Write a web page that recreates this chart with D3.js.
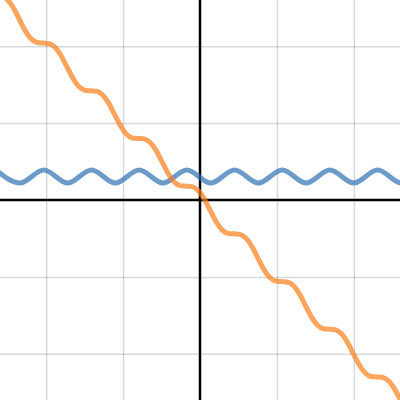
<!DOCTYPE html>
<html>
<head>
<meta charset="utf-8">
<script src="https://cdn.jsdelivr.net/npm/d3@7"></script>
<style>
  html, body { margin: 0; padding: 0; background: #fff; }
  svg { display: block; }
</style>
</head>
<body>
<svg id="chart" width="400" height="400"></svg>
<script>
/** Grid line positions (graph units) */
var gridTicks = [-2, -1, 1, 2];

/** Blue curve: peaks and troughs */
var blueX = [-2.651, -2.341, -2.031, -1.721, -1.411, -1.101, -0.791, -0.481,
             -0.171, 0.139, 0.449, 0.759, 1.069, 1.379, 1.689, 1.999, 2.309, 2.619, 2.929];
var blueY = [0.39, 0.22, 0.39, 0.22, 0.39, 0.22, 0.39, 0.22,
             0.39, 0.22, 0.39, 0.22, 0.39, 0.22, 0.39, 0.22, 0.39, 0.22, 0.39];

/** Orange curve: points */
var orangeX = [-2.66, -2.5825, -2.505, -2.4275, -2.35, -2.2725, -2.195, -2.1175,
               -2.04, -1.9625, -1.885, -1.8075, -1.73, -1.6525, -1.575, -1.4975,
               -1.42, -1.3425, -1.265, -1.1875, -1.11, -1.0325, -0.955, -0.8775,
               -0.80, -0.7225, -0.645, -0.5675, -0.49, -0.4125, -0.335, -0.2575,
               -0.18, -0.1025, -0.025, 0.0525, 0.13, 0.2075, 0.285, 0.3625,
               0.44, 0.5175, 0.595, 0.6725, 0.75, 0.8275, 0.905, 0.9825,
               1.06, 1.1375, 1.215, 1.2925, 1.37, 1.4475, 1.525, 1.6025,
               1.68, 1.7575, 1.835, 1.9125, 1.99, 2.0675, 2.145, 2.2225,
               2.30, 2.3775, 2.455, 2.5325, 2.61, 2.6875];
var orangeY = [2.66, 2.654, 2.605, 2.499, 2.35, 2.202, 2.095, 2.047,
               2.04, 2.034, 1.985, 1.879, 1.73, 1.582, 1.475, 1.427,
               1.42, 1.414, 1.365, 1.259, 1.11, 0.962, 0.855, 0.807,
               0.80, 0.794, 0.745, 0.639, 0.49, 0.342, 0.235, 0.187,
               0.18, 0.174, 0.125, 0.019, -0.13, -0.279, -0.385, -0.434,
               -0.44, -0.447, -0.495, -0.602, -0.75, -0.899, -1.005, -1.054,
               -1.06, -1.067, -1.115, -1.222, -1.37, -1.519, -1.625, -1.674,
               -1.68, -1.687, -1.735, -1.842, -1.99, -2.139, -2.245, -2.294,
               -2.30, -2.307, -2.355, -2.462, -2.61, -2.759];

var width = 400,
    height = 400;

var svg = d3.select('#chart');

// scales
var xScale = d3.scaleLinear().domain([-2.6, 2.6]).range([0, width]);
var yScale = d3.scaleLinear().domain([-2.6, 2.6]).range([height, 0]);

// grid lines via axes with full-length ticks
var xGrid = d3.axisBottom(xScale).tickValues(gridTicks).tickSize(-height).tickFormat('');
var yGrid = d3.axisLeft(yScale).tickValues(gridTicks).tickSize(-width).tickFormat('');

svg.append('g')
    .attr('class', 'grid')
    .attr('transform', 'translate(0,' + height + ')')
    .call(xGrid);

svg.append('g')
    .attr('class', 'grid')
    .call(yGrid);

svg.selectAll('.grid .domain').remove();
svg.selectAll('.grid line')
    .attr('stroke', '#000')
    .attr('stroke-opacity', 0.15)
    .attr('stroke-width', 1.5);

// main axes
svg.append('line')
    .attr('x1', xScale(0)).attr('x2', xScale(0))
    .attr('y1', 0).attr('y2', height)
    .attr('stroke', '#000')
    .attr('stroke-width', 2.5);

svg.append('line')
    .attr('x1', 0).attr('x2', width)
    .attr('y1', yScale(0)).attr('y2', yScale(0))
    .attr('stroke', '#000')
    .attr('stroke-width', 2.5);

// curves
var line = d3.line()
    .x(function (d) { return xScale(d[0]); })
    .y(function (d) { return yScale(d[1]); })
    .curve(d3.curveMonotoneX);

var blueData = d3.zip(blueX, blueY);
var orangeData = d3.zip(orangeX, orangeY);

svg.append('path')
    .datum(blueData)
    .attr('d', line)
    .attr('fill', 'none')
    .attr('stroke', '#2d70b3')
    .attr('stroke-opacity', 0.7)
    .attr('stroke-width', 5)
    .attr('stroke-linejoin', 'round')
    .attr('stroke-linecap', 'round');

svg.append('path')
    .datum(orangeData)
    .attr('d', line)
    .attr('fill', 'none')
    .attr('stroke', '#fa7e19')
    .attr('stroke-opacity', 0.7)
    .attr('stroke-width', 5)
    .attr('stroke-linejoin', 'round')
    .attr('stroke-linecap', 'round');
</script>
</body>
</html>
